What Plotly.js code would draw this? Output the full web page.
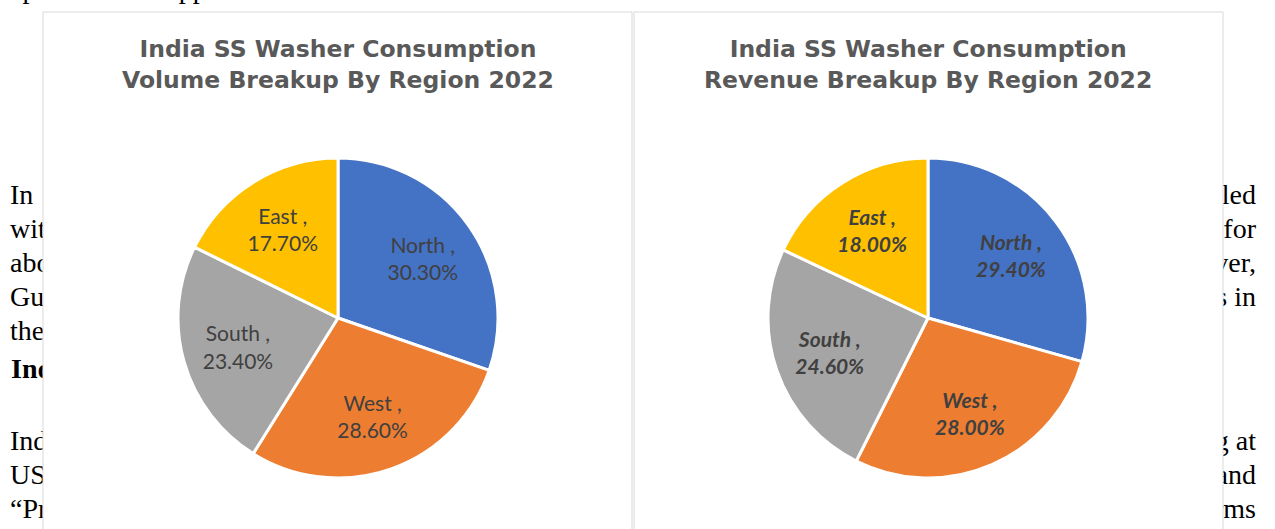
<!DOCTYPE html>
<html>
<head>
<meta charset="utf-8">
<script src="https://cdn.plot.ly/plotly-3.0.1.min.js"></script>
<style>
  html, body { margin: 0; padding: 0; background: #ffffff; width: 1275px; height: 529px; overflow: hidden; }
  #doc { position: absolute; left: 0; top: 0; width: 1275px; height: 529px; font-family: "Liberation Serif", "Times New Roman", serif; font-size: 28px; color: #000; }
  .ln { position: absolute; left: 10px; width: 1246px; height: 34px; line-height: 34px; display: flex; justify-content: space-between; white-space: nowrap; }
  .b { font-weight: bold; }
  #chart { position: absolute; left: 0; top: 0; width: 1275px; height: 529px; }
</style>
</head>
<body>
<div id="doc"></div>
<div id="chart"></div>
<script>
// ---- data ----
const regions = ['North', 'West', 'South', 'East'];
const volumeShare = [30.3, 28.6, 23.4, 17.7];
const revenueShare = [29.4, 28.0, 24.6, 18.0];
const sliceColors = ['#4472C4', '#ED7D31', '#A5A5A5', '#FFC000'];
const chartTitles = [
  'India SS Washer Consumption<br>Volume Breakup By Region 2022',
  'India SS Washer Consumption<br>Revenue Breakup By Region 2022'
];
// background document text lines
const docLeft = ['apart from a supplier', 'In', 'with', 'about', 'Gujarat', 'the', 'India', 'India', 'USD', '\u201CPr'];
const docRight = ['', 'handled', 'for', 'However,', 'states in', '', '', 'growing at', 'and', 'terms'];
const docBaselines = [-2, 204, 238, 272, 306, 340, 378, 450, 484, 518];
const docBold = [false, false, false, false, false, false, true, false, false, false];

// ---- document text behind the charts ----
const doc = document.getElementById('doc');
docLeft.forEach((t, i) => {
  const d = document.createElement('div');
  d.className = 'ln' + (docBold[i] ? ' b' : '');
  d.style.top = (docBaselines[i] - 26.4) + 'px';
  if (docBold[i]) d.style.left = '11px';
  const a = document.createElement('span'); a.textContent = t;
  const b = document.createElement('span'); b.textContent = docRight[i];
  d.appendChild(a); d.appendChild(b);
  doc.appendChild(d);
});

// ---- charts ----
const W = 1275, H = 529;
function px(x) { return x / W; }
function py(y) { return (H - y) / H; }

function pieDomain(cx, cy, r) {
  return { x: [px(cx - r), px(cx + r)], y: [py(cy + r), py(cy - r)] };
}

// filled slices (no text)
function pieSlices(values, cx, cy, r) {
  return {
    type: 'pie', labels: regions, values: values,
    sort: false, direction: 'clockwise', rotation: 0,
    marker: { colors: sliceColors, line: { color: '#ffffff', width: 3 } },
    textinfo: 'none', hoverinfo: 'none', showlegend: false,
    domain: pieDomain(cx, cy, r)
  };
}
// transparent ring carrying the data labels (places them further out, like the original)
function pieLabels(values, cx, cy, r, bold) {
  return {
    type: 'pie', labels: regions, values: values,
    sort: false, direction: 'clockwise', rotation: 0, hole: 0.3,
    marker: { colors: regions.map(() => 'rgba(0,0,0,0)'), line: { width: 0 } },
    texttemplate: '%{label} ,<br>%{value:.2f}%',
    textposition: 'inside',
    insidetextorientation: 'horizontal',
    textfont: { family: 'Lato, sans-serif', size: 21, color: '#404040',
                weight: bold ? 'bold' : 'normal', style: bold ? 'italic' : 'normal' },
    hoverinfo: 'none', showlegend: false,
    domain: pieDomain(cx, cy, r)
  };
}

const data = [
  pieSlices(volumeShare, 338, 318, 160),
  pieSlices(revenueShare, 928, 318, 160),
  pieLabels(volumeShare, 338, 318, 160, false),
  pieLabels(revenueShare, 928, 318, 160, true)
];

const panelLine = { color: '#d9d9d9', width: 1 };
const titleFont = { family: '"DejaVu Sans", sans-serif', size: 23.5, color: '#595959', weight: 'bold' };
const layout = {
  width: W, height: H,
  margin: { l: 0, r: 0, t: 0, b: 0 },
  paper_bgcolor: 'rgba(0,0,0,0)',
  plot_bgcolor: 'rgba(0,0,0,0)',
  showlegend: false,
  shapes: [
    { type: 'rect', xref: 'paper', yref: 'paper', x0: px(43), x1: px(632), y0: py(560), y1: py(12),
      fillcolor: '#ffffff', line: panelLine, layer: 'below' },
    { type: 'rect', xref: 'paper', yref: 'paper', x0: px(634), x1: px(1223), y0: py(560), y1: py(12),
      fillcolor: '#ffffff', line: panelLine, layer: 'below' }
  ],
  annotations: [
    { text: chartTitles[0], xref: 'paper', yref: 'paper', x: px(338), y: py(64), xanchor: 'center', yanchor: 'middle',
      showarrow: false, align: 'center', font: titleFont },
    { text: chartTitles[1], xref: 'paper', yref: 'paper', x: px(928), y: py(64), xanchor: 'center', yanchor: 'middle',
      showarrow: false, align: 'center', font: titleFont }
  ]
};

Plotly.newPlot('chart', data, layout, { displayModeBar: false, staticPlot: true });
</script>
</body>
</html>
